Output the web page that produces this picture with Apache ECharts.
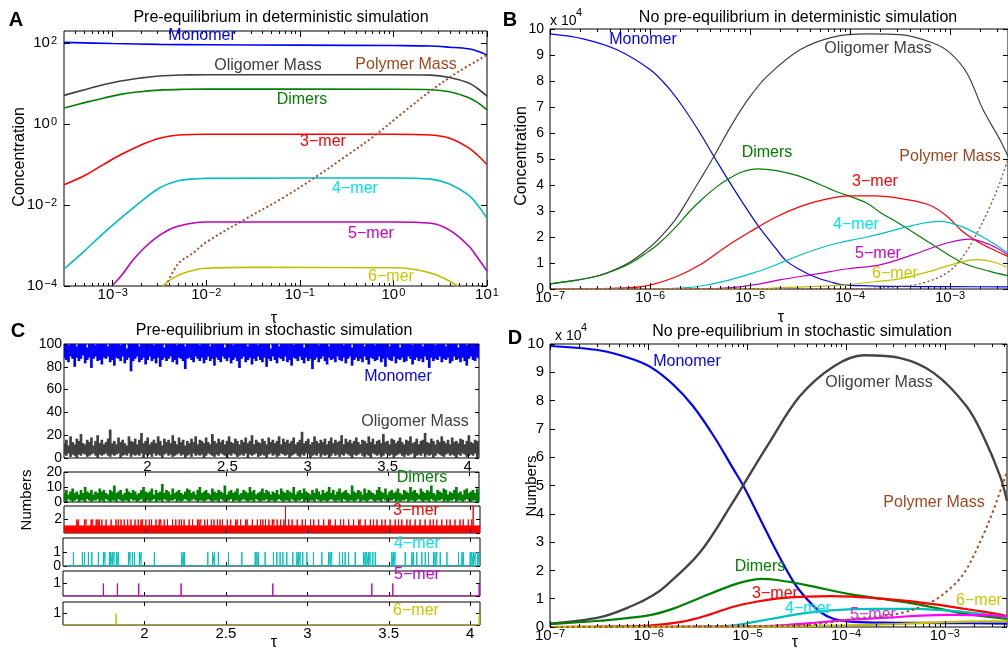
<!DOCTYPE html>
<html><head><meta charset="utf-8">
<script src="https://cdn.jsdelivr.net/npm/echarts@6/dist/echarts.min.js"></script>
<style>html,body{margin:0;padding:0;background:#fff}#c{width:1008px;height:651px}</style>
</head><body><div id="c"></div>
<script>
// ---------------- DATA ----------------
// Panel A: [log10(tau), log10(concentration)]
const aMonomer  = [[-3.52,2.02],[-3.0,1.99],[-2.5,1.97],[-2.0,1.96],[-1.0,1.95],[0.0,1.94],[0.4,1.93],[0.6,1.90],[0.8,1.86],[0.9,1.80],[1.0,1.71]];
const aOligomer = [[-3.52,0.71],[-3.3,0.85],[-3.1,0.97],[-2.9,1.07],[-2.7,1.14],[-2.5,1.19],[-2.2,1.215],[-2.0,1.22],[0.0,1.22],[0.4,1.21],[0.6,1.15],[0.8,1.02],[0.9,0.88],[1.0,0.69]];
const aDimers   = [[-3.52,0.40],[-3.3,0.53],[-3.1,0.64],[-2.9,0.74],[-2.7,0.80],[-2.5,0.84],[-2.2,0.86],[-2.0,0.865],[0.0,0.86],[0.4,0.85],[0.6,0.80],[0.8,0.66],[0.9,0.53],[1.0,0.35]];
const aTrimer   = [[-3.52,-1.5],[-3.3,-1.27],[-3.1,-1.0],[-2.9,-0.74],[-2.7,-0.52],[-2.5,-0.35],[-2.3,-0.27],[-2.0,-0.25],[0.0,-0.25],[0.4,-0.27],[0.6,-0.35],[0.8,-0.58],[0.9,-0.77],[1.0,-1.0]];
const aTetramer = [[-3.52,-3.58],[-3.3,-3.13],[-3.1,-2.7],[-2.9,-2.3],[-2.7,-1.92],[-2.5,-1.58],[-2.3,-1.40],[-2.1,-1.35],[-2.0,-1.34],[0.0,-1.33],[0.4,-1.36],[0.6,-1.48],[0.8,-1.75],[0.9,-2.0],[1.0,-2.33]];
const aPentamer = [[-3.01,-4.0],[-2.9,-3.72],[-2.78,-3.35],[-2.65,-3.03],[-2.5,-2.75],[-2.35,-2.56],[-2.15,-2.45],[-2.0,-2.42],[0.0,-2.42],[0.4,-2.45],[0.6,-2.62],[0.8,-3.0],[0.9,-3.3],[1.0,-3.63]];
const aHexamer  = [[-2.47,-4.0],[-2.35,-3.8],[-2.2,-3.65],[-2.0,-3.56],[-1.5,-3.54],[0.0,-3.55],[0.2,-3.58],[0.4,-3.68],[0.55,-3.82],[0.69,-4.0]];
const aPolymer  = [[-2.43,-4.0],[-2.3,-3.45],[-2.15,-3.2],[-2.0,-2.92],[-1.57,-2.33],[-1.2,-1.85],[-0.82,-1.29],[-0.5,-0.78],[-0.18,-0.25],[0.1,0.28],[0.43,0.875],[0.7,1.3],[1.0,1.71]];

// Panel B: [log10(tau), concentration x 1e4]
const bMonomer  = [[-7,9.81],[-6.67,9.62],[-6.33,9.2],[-6.0,8.44],[-5.83,7.8],[-5.67,7.0],[-5.5,6.0],[-5.33,4.9],[-5.17,3.9],[-5.0,2.89],[-4.89,2.28],[-4.75,1.6],[-4.64,1.09],[-4.5,0.74],[-4.35,0.46],[-4.2,0.28],[-4.09,0.17],[-3.8,0.12],[-3.5,0.1],[-3.0,0.09],[-2.42,0.08]];
const bOligomer = [[-7,0.2],[-6.75,0.33],[-6.52,0.51],[-6.35,0.75],[-6.19,1.06],[-6.05,1.45],[-5.92,1.9],[-5.75,2.65],[-5.62,3.44],[-5.5,4.2],[-5.37,5.04],[-5.17,6.4],[-5.0,7.4],[-4.83,8.18],[-4.5,9.2],[-4.17,9.69],[-3.83,9.81],[-3.5,9.78],[-3.17,9.46],[-3.0,9.08],[-2.83,8.3],[-2.67,6.9],[-2.5,5.74],[-2.42,5.1]];
const bDimers   = [[-7,0.2],[-6.75,0.33],[-6.52,0.5],[-6.35,0.72],[-6.19,1.0],[-6.05,1.35],[-5.92,1.72],[-5.75,2.35],[-5.6,3.0],[-5.48,3.45],[-5.35,3.88],[-5.23,4.2],[-5.08,4.5],[-4.92,4.62],[-4.75,4.56],[-4.5,4.33],[-4.17,3.8],[-3.83,3.3],[-3.7,2.95],[-3.5,2.5],[-3.2,1.77],[-2.87,1.0],[-2.6,0.68],[-2.42,0.51]];
const bTrimer   = [[-7,0],[-6.5,0.01],[-6.19,0.05],[-6.0,0.15],[-5.75,0.45],[-5.5,0.93],[-5.25,1.6],[-5.0,2.2],[-4.75,2.75],[-4.5,3.17],[-4.25,3.45],[-4.0,3.58],[-3.75,3.58],[-3.45,3.45],[-3.2,3.22],[-3.03,2.8],[-2.87,2.2],[-2.7,1.77],[-2.55,1.48],[-2.42,1.25]];
const bTetramer = [[-7,0],[-6.0,0.0],[-5.62,0.05],[-5.4,0.18],[-5.19,0.36],[-5.0,0.58],[-4.82,0.81],[-4.64,1.09],[-4.5,1.3],[-4.35,1.51],[-4.17,1.72],[-4.0,1.87],[-3.83,2.0],[-3.7,2.12],[-3.37,2.45],[-3.1,2.6],[-2.87,2.38],[-2.63,1.9],[-2.42,1.38]];
const bPentamer = [[-7,0],[-5.5,0.0],[-5.19,0.05],[-4.9,0.2],[-4.69,0.36],[-4.35,0.57],[-4.02,0.78],[-3.7,0.93],[-3.37,1.32],[-3.03,1.77],[-2.8,1.92],[-2.6,1.70],[-2.42,1.32]];
const bHexamer  = [[-7,0],[-5.0,0.0],[-4.69,0.05],[-4.35,0.1],[-4.02,0.17],[-3.7,0.3],[-3.49,0.4],[-3.2,0.68],[-2.97,0.95],[-2.73,1.13],[-2.55,1.02],[-2.42,0.81]];
const bPolymer  = [[-7,0],[-4.0,0.01],[-3.5,0.09],[-3.27,0.23],[-3.03,0.62],[-2.87,1.25],[-2.73,2.15],[-2.6,3.18],[-2.5,4.1],[-2.42,5.0]];

// Panel D: [log10(tau), numbers x 1e4]
const dMonomer  = [[-7,9.93],[-6.49,9.77],[-6.16,9.46],[-5.96,9.14],[-5.75,8.56],[-5.55,7.8],[-5.34,6.74],[-5.14,5.57],[-5.04,4.98],[-4.87,3.81],[-4.70,2.64],[-4.53,1.58],[-4.40,1.0],[-4.26,0.53],[-4.13,0.29],[-3.93,0.18],[-3.5,0.15],[-3.0,0.14],[-2.37,0.12]];
const dOligomer = [[-7,0.12],[-6.49,0.35],[-6.16,0.76],[-5.96,1.11],[-5.82,1.47],[-5.48,2.64],[-5.14,4.45],[-5.04,5.02],[-4.80,6.39],[-4.47,8.15],[-4.13,9.2],[-3.82,9.6],[-3.45,9.5],[-3.11,8.97],[-2.78,7.8],[-2.61,6.74],[-2.44,5.33],[-2.37,4.45]];
const dDimers   = [[-7,0.1],[-6.5,0.22],[-6.0,0.41],[-5.75,0.65],[-5.5,1.0],[-5.16,1.47],[-4.99,1.64],[-4.86,1.70],[-4.7,1.66],[-4.39,1.47],[-3.98,1.17],[-3.65,1.0],[-3.30,0.82],[-2.80,0.47],[-2.37,0.29]];
const dTrimer   = [[-7,0],[-6.5,0.01],[-6.0,0.05],[-5.67,0.18],[-5.4,0.42],[-5.16,0.70],[-4.9,0.9],[-4.66,1.02],[-4.15,1.09],[-3.64,1.0],[-3.14,0.82],[-2.63,0.55],[-2.37,0.39]];
const dTetramer = [[-7,0],[-5.5,0.01],[-5.16,0.05],[-4.9,0.2],[-4.66,0.35],[-4.4,0.5],[-4.15,0.59],[-3.7,0.64],[-3.30,0.64],[-2.80,0.53],[-2.37,0.35]];
const dPentamer = [[-7,0],[-5.0,0.02],[-4.66,0.06],[-4.32,0.15],[-4.0,0.24],[-3.64,0.32],[-2.97,0.43],[-2.6,0.42],[-2.37,0.37]];
const dHexamer  = [[-7,0],[-4.66,0.02],[-4.0,0.06],[-3.5,0.1],[-3.0,0.17],[-2.6,0.2],[-2.37,0.2]];
const dPolymer  = [[-7,0],[-4.5,0.05],[-4.2,0.15],[-3.9,0.3],[-3.47,0.47],[-3.14,0.88],[-2.95,1.35],[-2.80,1.93],[-2.63,3.1],[-2.5,4.2],[-2.37,5.5]];

// Panel C: stochastic counts; per time-bin low/high envelope of the dense trace
const cTimeStart = 1.48, cTimeEnd = 4.07;
const cMonomerHigh = [100,100,99,100,100,100,98,100,100,100,100,97,100,100,100,99,100,100,100,100,
 100,98,100,100,100,100,100,99,100,100,96,100,100,100,100,100,98,100,100,100,
 100,100,100,99,100,100,100,100,97,100,100,100,100,100,99,100,100,100,98,100,
 100,100,100,100,100,99,100,100,100,100,98,100,100,100,100,100,100,97,100,100,
 100,99,100,100,100,100,100,100,98,100,100,100,100,99,100,100,100,100,100,96,
 100,100,100,98,100,100,100,100,100,100,99,100,100,100,100,97,100,100,100,100,
 100,100,99,100,100,100,100,98,100,100,100,100,100,100,99,100,100,100,97,100,
 100,100,100,100,98,100,100,100,100,99,100,100,100,100,100,100,98,100,100,100,
 100,97,100,100,100,100,100,99,100,100,100,100,98,100,100,100,100,100,99,100,
 100,100,100,98,100,100,100,100,100,97,100,100,100,99,100,100,100,100,100,100];
const cMonomerLow = [88,86,84,89,87,80,88,85,87,90,83,86,88,79,87,89,85,86,82,88,
 87,89,84,86,81,88,87,85,89,83,86,88,76,85,87,89,84,86,88,82,
 86,89,85,87,83,88,80,86,88,85,87,89,84,86,82,88,87,85,78,87,
 88,86,84,89,87,85,88,83,86,89,85,87,81,88,86,84,89,87,85,88,
 83,86,88,85,79,87,89,84,86,88,82,87,85,89,86,84,88,80,87,85,
 89,86,83,88,87,85,89,84,86,81,88,87,85,89,86,83,88,85,87,78,
 86,88,84,87,89,85,82,88,86,87,84,89,86,85,88,83,87,89,81,86,
 88,85,87,84,89,86,82,88,87,85,86,89,84,87,80,88,86,85,89,83,
 87,86,88,84,85,89,87,82,86,88,85,87,84,89,86,79,88,85,87,86,
 89,84,87,86,88,83,85,89,86,87,84,88,85,81,87,89,86,85,88,87];
const cOligomerHigh = [13,16,11,19,14,12,17,15,21,13,12,16,14,18,11,15,20,13,16,12,
 14,17,25,13,15,12,18,14,16,13,11,19,15,14,17,12,16,22,13,15,
 18,12,14,16,13,19,15,11,17,14,16,13,20,15,12,18,14,16,11,15,
 13,17,14,19,12,16,15,13,18,14,12,21,15,13,17,14,16,12,15,19,
 14,13,17,15,12,16,14,18,13,15,20,12,16,14,13,17,15,12,18,14,
 16,13,15,19,12,17,14,16,13,15,18,12,14,16,23,13,15,17,12,14,
 19,15,13,16,14,17,12,15,18,13,16,14,15,20,12,17,14,16,13,15,
 18,14,12,16,15,13,19,14,17,12,15,16,13,21,14,15,12,17,16,13,
 15,18,14,12,16,15,19,13,14,17,12,15,16,22,14,13,17,15,12,16,
 14,19,15,13,16,12,18,14,15,13,17,16,12,15,20,14,13,16,15,14];
const cOligomerLow = [3,2,4,1,3,2,0,3,2,4,3,1,2,3,4,2,0,3,2,3,
 4,2,1,3,2,3,4,0,2,3,2,4,1,3,2,3,2,4,0,3,
 2,3,1,4,2,3,2,0,3,4,2,3,1,2,3,4,2,3,0,2,
 3,1,4,2,3,2,3,0,2,4,3,2,1,3,2,4,3,2,0,3,
 2,4,3,1,2,3,2,4,0,3,2,3,4,1,2,3,2,0,3,4,
 2,3,1,2,4,3,2,3,0,2,3,4,2,1,3,2,4,3,0,2,
 3,2,4,1,3,2,3,0,2,4,2,3,1,3,2,4,3,2,0,3,
 2,3,4,2,1,3,2,0,4,3,2,3,1,2,4,3,2,3,0,2,
 3,4,2,1,3,2,3,4,0,2,3,2,4,1,3,2,3,0,2,4,
 3,2,1,3,4,2,3,2,0,3,2,4,3,1,2,3,2,4,0,3];
const cSubStart = 1.5, cSubEnd = 4.06;
const cDimersHigh = [6,8,5,7,9,6,7,5,8,6,10,7,6,8,5,7,6,9,7,8,
 6,5,8,7,11,6,7,8,5,6,9,7,6,8,7,5,6,8,10,7,
 6,7,9,5,8,6,7,12,6,8,7,5,9,6,7,8,6,5,7,9,
 8,6,7,5,8,10,6,7,8,6,5,9,7,6,8,7,6,11,5,7,
 8,6,7,9,5,6,8,7,6,10,7,8,5,6,7,9,6,8,7,5,
 7,6,8,5,9,7,6,8,7,6,10,5,7,8,6,9,7,6,5,8,
 6,9,7,5,8,6,7,10,6,8,5,7,9,6,7,8,6,5,11,7,
 6,8,7,5,9,6,8,7,6,5,8,10,7,6,9,5,7,8,6,7,
 9,6,5,8,7,6,10,7,8,6,5,9,7,6,8,7,11,6,5,8,
 7,6,9,8,5,7,6,8,10,6,7,5,8,9,6,7,8,6,9,7];
const cDimersLow = [1,0,2,1,0,1,2,0,1,1,0,2,1,0,1,1,2,0,1,0,
 2,1,0,1,1,0,2,1,0,1,1,0,2,1,1,0,1,2,0,1,
 1,0,1,2,0,1,1,0,2,1,0,1,1,2,0,1,0,1,2,1,
 0,1,2,1,0,1,1,0,1,2,1,0,1,1,0,2,1,0,1,1,
 2,0,1,1,0,1,2,1,0,1,1,0,2,1,0,1,1,2,0,1,
 1,0,1,2,1,0,1,1,0,2,1,0,1,1,2,0,1,0,1,1,
 0,2,1,0,1,1,0,1,2,1,0,1,1,0,2,1,0,1,1,0,
 1,2,0,1,1,0,1,2,1,0,1,1,0,2,1,0,1,1,2,0,
 1,0,1,1,2,0,1,1,0,1,2,1,0,1,1,0,2,1,0,1,
 1,2,0,1,0,1,1,2,0,1,1,0,1,2,1,0,1,1,0,1];
const cTrimerBase = 1;              // 3-mer flickers 0<->1 continuously
const cTrimerTwo = [1.579,1.589,1.626,1.636,1.667,1.677,1.698,1.708,1.718,1.733,1.759,1.790,1.820,1.834,1.851,1.871,1.892,1.912,1.937,1.957,1.974,1.984,2.004,2.025,2.039,2.066,2.086,2.096,2.117,2.137,2.168,2.188,2.209,2.223,2.239,2.270,2.291,2.321,2.331,2.342,2.366,2.383,2.407,2.423,2.444,2.460,2.475,2.505,2.526,2.556,2.567,2.587,2.618,2.628,2.659,2.690,2.710,2.724,2.740,2.761,2.782,
 2.792,2.812,2.833,2.853,2.883,2.904,2.935,2.966,2.986,3.017,3.037,3.067,3.098,3.129,3.139,3.170,3.201,3.221,3.252,3.282,3.313,3.323,3.354,3.385,3.405,3.426,3.456,3.477,3.507,3.538,3.558,3.579,3.610,3.630,3.661,3.691,3.722,3.753,3.773,3.794,3.825,3.855,3.876,3.906,3.937,3.957,3.988,4.009];
const cTrimerFour = [2.863,4.018];
const cTetramerEvents = [1.564,1.619,1.632,1.656,1.677,1.717,1.748,1.758,1.785,1.793,1.803,1.814,1.830,1.840,1.902,1.912,1.926,1.939,1.969,1.980,2.061,2.229,2.240,2.246,2.389,2.418,2.430,2.454,2.516,2.598,2.680,2.690,2.700,2.741,2.792,2.813,2.833,2.850,2.874,2.911,2.936,2.946,2.956,2.972,2.997,3.038,3.089,3.130,3.140,3.150,3.198,3.216,3.232,3.253,3.294,3.345,3.355,3.365,3.376,3.386,3.402,3.417,3.519,3.529,3.539,3.601,3.642,3.652,3.672,3.703,3.724,3.744,3.775,3.785,3.795,3.816,3.857,3.928,3.949,3.959,4.000,4.010,4.020,4.031,4.045,4.055];
const cPentamerEvents = [1.748,1.834,1.965,2.225,2.788,3.396,3.525,4.055];
const cHexamerEvents = [1.826,4.055];

// tick label values
const aXTicks = [-3,-2,-1,0,1], aYTicks = [-4,-2,0,2];
const bdXTicks = [-7,-6,-5,-4,-3], bdYTicks = [0,1,2,3,4,5,6,7,8,9,10];
const cXTicks = [2,2.5,3,3.5,4];
const cYTicks = [[0,20,40,60,80,100],[0,10,20],[0,2],[0,1],[0,1],[0,1]];

// ---------------- CHART ----------------
const FONT = "'Liberation Sans', Arial, Helvetica, sans-serif";
const COL = {mono:'#0000ff', olig:'#404040', dim:'#008000', tri:'#ff0000', tet:'#00bfbf', pen:'#bf00bf', hex:'#bfbf00', poly:'#a0522d'};
const grid=[], xAxis=[], yAxis=[], series=[], graphic=[];

function addGrid(left, top, width, height){
  grid.push({left, top, width, height, show:true, borderColor:'#000', borderWidth:1, backgroundColor:'rgba(0,0,0,0)'});
  return grid.length-1;
}
function mkAxis(list, gi, position, min, max, o){
  o = o || {};
  list.push({
    type:'value', gridIndex:gi, position, min, max,
    axisLine:{show:false, onZero:false}, splitLine:{show:false},
    axisTick:{show:!!o.ticks, inside:true, length:o.len||5, customValues:o.ticks, lineStyle:{color:'#000', width:1}},
    axisLabel:{show:!!o.labels, customValues:o.labels, formatter:o.fmt, rich:o.rich,
      margin:o.margin==null?4:o.margin, color:'#000', fontSize:o.fs||14, fontFamily:FONT},
    z: 10
  });
  return list.length-1;
}
function minorLog(lo, hi){
  const r=[];
  for (let d=Math.floor(lo); d<=Math.ceil(hi); d++) for (let k=2;k<=9;k++){ const v=d+Math.log10(k); if (v>lo && v<hi) r.push(v); }
  return r;
}
function pow10(v){ const e=Math.round(v); return '{b|10}{s|' + (e<0 ? '\u2212'+(-e) : e) + '}'; }
const richPow = {
  b:{fontSize:15, fontFamily:FONT, color:'#000', lineHeight:15, padding:[8,0,8,0]},
  s:{fontSize:11, fontFamily:FONT, color:'#000', lineHeight:11, verticalAlign:'top', padding:[0,0,0,1]}
};
function logXAxes(gi, min, max, majors, labels){
  const xi = mkAxis(xAxis, gi, 'bottom', min, max, {ticks:majors, len:6, labels, fmt:pow10, rich:richPow, margin:1});
  mkAxis(xAxis, gi, 'top', min, max, {ticks:majors, len:6});
  const mn = minorLog(min, max);
  mkAxis(xAxis, gi, 'bottom', min, max, {ticks:mn, len:3});
  mkAxis(xAxis, gi, 'top', min, max, {ticks:mn, len:3});
  return xi;
}
function line(xi, yi, data, color, width, o){
  o = o || {};
  series.push({type:'line', xAxisIndex:xi, yAxisIndex:yi, data, showSymbol:false, symbol:'none',
    smooth:o.smooth==null?0.35:o.smooth, clip:true, silent:true, z:o.z||3,
    lineStyle:{color, width, type:o.type||'solid', cap:'butt'}, areaStyle:o.area});
}
function band(xi, yi, lo, hi, t0, t1, color){
  const n = lo.length, step = (t1-t0)/(n-1);
  const data = lo.map((v,i)=>[t0 + i*step, v, hi[i]]);
  series.push({type:'custom', xAxisIndex:xi, yAxisIndex:yi, data, silent:true, clip:true, z:3,
    renderItem:(params, api)=>{
      const a = api.coord([api.value(0) - step/2, api.value(2)]);
      const b = api.coord([api.value(0) + step/2, api.value(1)]);
      return {type:'rect', shape:{x:a[0], y:a[1], width:b[0]-a[0]+0.6, height:b[1]-a[1]}, style:{fill:color}};
    }});
}
function txt(text, x, y, o){
  o = o || {};
  graphic.push({type:'text', x, y, z:100, rotation:o.rot||0, silent:true,
    style:{text, fill:o.color||'#000', font:(o.bold?'bold ':'')+(o.size||16)+'px '+FONT,
      align:o.align||'center', verticalAlign:o.va||'middle'}});
}

// ----- Panel A -----
const gA = addGrid(64, 31, 423, 255);
const xA = logXAxes(gA, -3.52, 1, aXTicks, aXTicks);
const yA = mkAxis(yAxis, gA, 'left', -4, 2.3, {ticks:aYTicks, len:6, labels:aYTicks, fmt:pow10, rich:richPow, margin:7});
mkAxis(yAxis, gA, 'right', -4, 2.3, {ticks:aYTicks, len:6});
line(xA, yA, aMonomer, COL.mono, 1.6);
line(xA, yA, aOligomer, COL.olig, 1.6);
line(xA, yA, aDimers, COL.dim, 1.6);
line(xA, yA, aTrimer, COL.tri, 1.6);
line(xA, yA, aTetramer, COL.tet, 1.6);
line(xA, yA, aPentamer, COL.pen, 1.6);
line(xA, yA, aHexamer, COL.hex, 1.6);
line(xA, yA, aPolymer, COL.poly, 2, {type:[2,2.5]});

// ----- Panel B -----
const gB = addGrid(550, 29, 458, 260);
const xB = logXAxes(gB, -7, -2.42, bdXTicks, bdXTicks);
const yB = mkAxis(yAxis, gB, 'left', 0, 10, {ticks:bdYTicks, len:5, labels:bdYTicks, margin:6, fs:14});
mkAxis(yAxis, gB, 'right', 0, 10, {ticks:bdYTicks, len:5});
line(xB, yB, bMonomer, COL.mono, 1.2);
line(xB, yB, bOligomer, COL.olig, 1.2);
line(xB, yB, bDimers, COL.dim, 1.2);
line(xB, yB, bTrimer, COL.tri, 1.2);
line(xB, yB, bTetramer, COL.tet, 1.2);
line(xB, yB, bPentamer, COL.pen, 1.2);
line(xB, yB, bHexamer, COL.hex, 1.2);
line(xB, yB, bPolymer, COL.poly, 1.4, {type:[2,2.5]});

// ----- Panel D -----
const gD = addGrid(550, 344, 457, 284);
const xD = logXAxes(gD, -7, -2.37, bdXTicks, bdXTicks);
const yD = mkAxis(yAxis, gD, 'left', 0, 10, {ticks:bdYTicks, len:5, labels:bdYTicks, margin:6, fs:15});
mkAxis(yAxis, gD, 'right', 0, 10, {ticks:bdYTicks, len:5});
line(xD, yD, dMonomer, COL.mono, 2.2);
line(xD, yD, dOligomer, '#444444', 2.4);
line(xD, yD, dDimers, COL.dim, 2.2);
line(xD, yD, dTrimer, COL.tri, 2.2);
line(xD, yD, dTetramer, COL.tet, 2.2);
line(xD, yD, dPentamer, '#ff00ff', 2.2);
line(xD, yD, dHexamer, COL.hex, 2.2);
line(xD, yD, dPolymer, COL.poly, 2, {type:[2.5,3]});

// ----- Panel C -----
const cBoxes = [[64,344,415,114],[64,472,415,30],[64,506,416,27],[63,538,417,28],[63,571,417,25],[63,602,417,23]];
const cYMax = [100,20,4,2,2,2];
const cX=[], cY=[];
cBoxes.forEach((b,i)=>{
  const gi = addGrid(b[0],b[1],b[2],b[3]);
  const lo = i===0 ? cTimeStart : cSubStart, hi = i===0 ? cTimeEnd : cSubEnd;
  const showLab = (i===0 || i===5);
  cX.push(mkAxis(xAxis, gi, 'bottom', lo, hi, {ticks:cXTicks, len:4, labels: showLab?cXTicks:null, margin:1, fs:15}));
  mkAxis(xAxis, gi, 'top', lo, hi, {ticks:cXTicks, len:4});
  cY.push(mkAxis(yAxis, gi, 'left', 0, cYMax[i], {ticks:cYTicks[i], len:4, labels:cYTicks[i], margin:2, fs:14}));
  mkAxis(yAxis, gi, 'right', 0, cYMax[i], {ticks:cYTicks[i], len:4});
});
function spikes(times, base, top, lo, hi){
  const d=[[lo,base]];
  times.forEach(t=>{ d.push([t,base],[t,top],[t,base]); });
  d.push([hi,base]);
  return d;
}
band(cX[0], cY[0], cMonomerLow, cMonomerHigh, cTimeStart, cTimeEnd, COL.mono);
band(cX[0], cY[0], cOligomerLow, cOligomerHigh, cTimeStart, cTimeEnd, COL.olig);
band(cX[1], cY[1], cDimersLow, cDimersHigh, cSubStart, cSubEnd, COL.dim);
line(cX[2], cY[2], [[cSubStart,cTrimerBase],[cSubEnd,cTrimerBase]], COL.tri, 1, {smooth:false, area:{color:COL.tri, opacity:1, origin:'start'}});
line(cX[2], cY[2], spikes(cTrimerTwo, 1, 2, cSubStart, cSubEnd), COL.tri, 1, {smooth:false});
line(cX[2], cY[2], spikes(cTrimerFour, 1, 4, cSubStart, cSubEnd), COL.tri, 1, {smooth:false});
line(cX[3], cY[3], spikes(cTetramerEvents, 0, 1, cSubStart, cSubEnd), COL.tet, 1, {smooth:false, z:12});
line(cX[4], cY[4], spikes(cPentamerEvents, 0, 1, cSubStart, cSubEnd), COL.pen, 1, {smooth:false, z:12});
line(cX[5], cY[5], spikes(cHexamerEvents, 0, 1, cSubStart, cSubEnd), COL.hex, 1, {smooth:false, z:12});

// ----- Texts -----
txt('A', 16, 20, {bold:true, size:20});
txt('B', 510, 20, {bold:true, size:20});
txt('C', 18, 331, {bold:true, size:20});
txt('D', 515, 338, {bold:true, size:20});
txt('Pre-equilibrium in deterministic simulation', 281, 18);
txt('No pre-equilibrium in deterministic simulation', 798, 18);
txt('Pre-equilibrium in stochastic simulation', 274, 331);
txt('No pre-equilibrium in stochastic simulation', 802, 332);
txt('Concentration', 20, 157, {rot:Math.PI/2});
txt('Concentration', 522, 156, {rot:Math.PI/2});
txt('Numbers', 27, 500, {rot:Math.PI/2, size:15});
txt('Numbers', 532, 486, {rot:Math.PI/2, size:15});
txt('\u03c4', 274, 319);
txt('\u03c4', 781, 318);
txt('\u03c4', 274, 643);
txt('\u03c4', 795, 643);
txt('x 10', 550, 21, {size:14, align:'left'});
txt('4', 576, 13, {size:11, align:'left'});
txt('x 10', 555, 336, {size:14, align:'left'});
txt('4', 581, 328, {size:11, align:'left'});

const LBL = {mono:'#0000ff', olig:'#404040', dim:'#008000', tri:'#ff0000', tet:'#00e5e5', pen:'#cc00cc', hex:'#c8c800', poly:'#a0461e'};
// Panel A labels
txt('Monomer', 202, 36, {color:LBL.mono});
txt('Oligomer Mass', 268, 66, {color:LBL.olig});
txt('Polymer Mass', 406, 65, {color:LBL.poly});
txt('Dimers', 302, 100, {color:LBL.dim});
txt('3\u2212mer', 323, 142, {color:LBL.tri});
txt('4\u2212mer', 355, 189, {color:LBL.tet});
txt('5\u2212mer', 371, 234, {color:LBL.pen});
txt('6\u2212mer', 391, 277, {color:LBL.hex});
// Panel B labels
txt('Monomer', 643, 40, {color:LBL.mono});
txt('Oligomer Mass', 878, 49, {color:LBL.olig});
txt('Dimers', 767, 153, {color:LBL.dim});
txt('Polymer Mass', 950, 157, {color:LBL.poly});
txt('3\u2212mer', 875, 182, {color:LBL.tri});
txt('4\u2212mer', 856, 225, {color:LBL.tet});
txt('5\u2212mer', 878, 254, {color:LBL.pen});
txt('6\u2212mer', 895, 274, {color:LBL.hex});
// Panel C labels
txt('Monomer', 398, 377, {color:LBL.mono});
txt('Oligomer Mass', 415, 422, {color:LBL.olig});
txt('Dimers', 422, 478, {color:LBL.dim});
txt('3\u2212mer', 416, 511, {color:LBL.tri});
txt('4\u2212mer', 417, 544, {color:LBL.tet});
txt('5\u2212mer', 417, 575, {color:LBL.pen});
txt('6\u2212mer', 416, 611, {color:LBL.hex});
// Panel D labels
txt('Monomer', 687, 362, {color:LBL.mono});
txt('Oligomer Mass', 879, 383, {color:LBL.olig});
txt('Polymer Mass', 934, 503, {color:LBL.poly});
txt('Dimers', 760, 567, {color:LBL.dim});
txt('3\u2212mer', 775, 594, {color:LBL.tri});
txt('4\u2212mer', 808, 609, {color:LBL.tet});
txt('5\u2212mer', 873, 615, {color:'#cc33cc'});
txt('6\u2212mer', 979, 601, {color:LBL.hex});

const chart = echarts.init(document.getElementById('c'));
chart.setOption({animation:false, backgroundColor:'#fff', grid, xAxis, yAxis, series, graphic});
</script></body></html>
